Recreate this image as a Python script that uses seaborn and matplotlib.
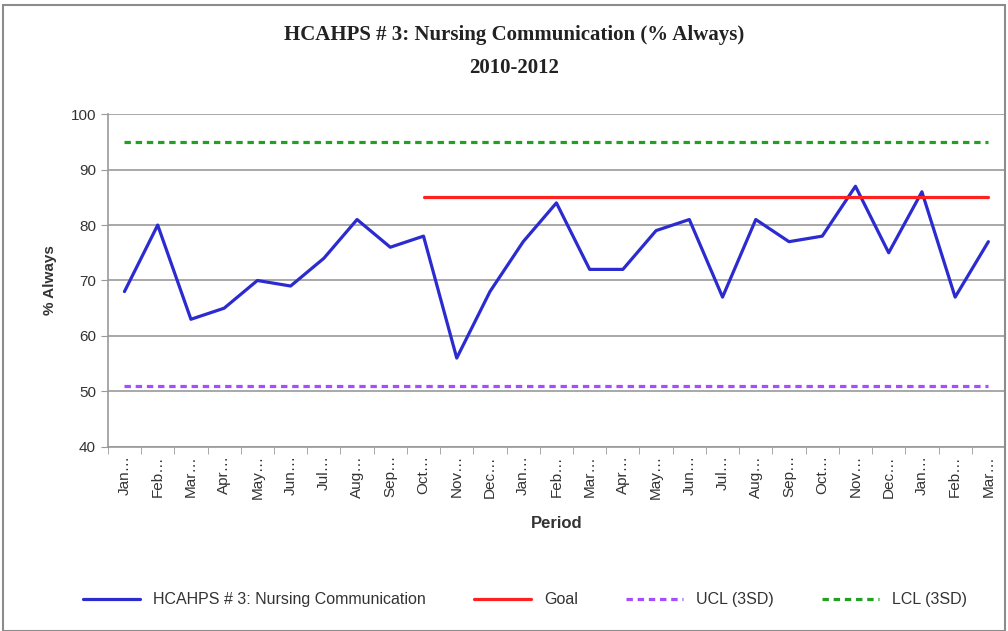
import pandas as pd
import seaborn as sns
import matplotlib.pyplot as plt
from matplotlib.patches import Rectangle

months = ["Jan", "Feb", "Mar", "Apr", "May", "Jun", "Jul", "Aug", "Sep", "Oct", "Nov", "Dec",
          "Jan", "Feb", "Mar", "Apr", "May", "Jun", "Jul", "Aug", "Sep", "Oct", "Nov", "Dec",
          "Jan", "Feb", "Mar"]
pct_always = [68, 80, 63, 65, 70, 69, 74, 81, 76, 78, 56, 68,
              77, 84, 72, 72, 79, 81, 67, 81, 77, 78, 87, 75,
              86, 67, 77]
goal = 85
goal_start = 9  # goal line starts at Oct of first year
ucl = 51
lcl = 95

series_name = "HCAHPS # 3: Nursing Communication"

sns.set_style("white")
plt.rcParams['font.family'] = ['Liberation Sans', 'DejaVu Sans']

idx = list(range(len(months)))
df = pd.DataFrame({"idx": idx, "value": pct_always})
df_goal = pd.DataFrame({"idx": idx[goal_start:], "value": [goal] * len(idx[goal_start:])})
df_ucl = pd.DataFrame({"idx": idx, "value": [ucl] * len(idx)})
df_lcl = pd.DataFrame({"idx": idx, "value": [lcl] * len(idx)})

fig = plt.figure(figsize=(10.08, 6.31), dpi=100)
ax = fig.add_axes([0.107, 0.292, 0.890, 0.527])

sns.lineplot(data=df, x="idx", y="value", ax=ax, color="#2b2bd0", linewidth=2.3, label=series_name)
sns.lineplot(data=df_goal, x="idx", y="value", ax=ax, color="#ff2020", linewidth=2.3, label="Goal")
sns.lineplot(data=df_ucl, x="idx", y="value", ax=ax, color="#a64dff", linewidth=2.3,
             linestyle=(0, (2, 1.5)), label="UCL (3SD)")
sns.lineplot(data=df_lcl, x="idx", y="value", ax=ax, color="#22a022", linewidth=2.3,
             linestyle=(0, (2, 1.5)), label="LCL (3SD)")

ax.set_xlim(-0.5, len(months) - 0.5)
ax.set_ylim(40, 100)
ax.set_yticks(range(40, 101, 10))
ax.yaxis.grid(True, color="#9a9a9a", linewidth=1.2)
ax.set_xticks(idx)
ax.set_xticklabels([m + "\u2026" for m in months], rotation=90, fontsize=11, color="#333333")
ax.set_xticks([i - 0.5 for i in range(len(months) + 1)], minor=True)
ax.tick_params(axis="x", which="major", length=0, pad=6)
ax.tick_params(axis="x", which="minor", length=5, color="#999999", direction="out")
ax.tick_params(axis="y", length=5, color="#999999", labelsize=11, labelcolor="#333333")
ax.yaxis.set_ticks_position("left")
ax.xaxis.set_ticks_position("bottom")

for side in ["top", "right"]:
    ax.spines[side].set_visible(False)
for side in ["left", "bottom"]:
    ax.spines[side].set_color("#999999")
    ax.spines[side].set_linewidth(1.2)

ax.set_xlabel("Period", fontsize=12, fontweight="bold", color="#333333", labelpad=12)
ax.set_ylabel("% Always", fontsize=11, fontweight="bold", color="#333333", labelpad=10)

fig.text(0.51, 0.945, "HCAHPS # 3: Nursing Communication (% Always)", ha="center", va="center",
         fontsize=15, fontweight="bold", family="Liberation Serif", color="#222222")
fig.text(0.51, 0.893, "2010-2012", ha="center", va="center",
         fontsize=15, fontweight="bold", family="Liberation Serif", color="#222222")

ax.legend(loc="center", bbox_to_anchor=(0.465, -0.46), ncol=4, frameon=False,
          fontsize=11.5, handlelength=3.6, columnspacing=3.0, labelcolor="#333333")

fig.patches.append(Rectangle((0.003, 0.0), 0.994, 0.992, transform=fig.transFigure,
                             fill=False, edgecolor="#8c8c8c", linewidth=1.5))

fig.savefig("out.png", dpi=100)
